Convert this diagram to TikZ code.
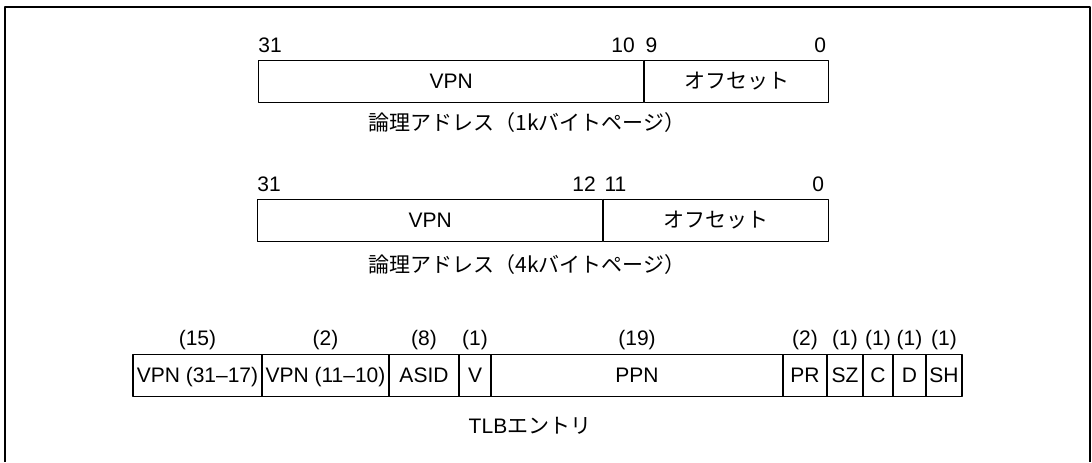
\documentclass[tikz,border=0pt]{standalone}
\usepackage{fontspec}
\setmainfont{Liberation Sans}
\newfontfamily\jp{Noto Sans CJK JP}
\usetikzlibrary{positioning}
\tikzset{
  field/.style={draw, line width=0.6pt, inner sep=0pt, text height=0.72em, text depth=0pt, minimum height=21pt},
  bit/.style={inner sep=0pt}
}
\begin{document}
\begin{tikzpicture}[line join=round, font=\fontsize{10.5}{12.6}\selectfont, x=0.5pt, y=-0.5pt]
  \useasboundingbox (0,0) rectangle (1092,462);
  \draw[line width=1.3pt] (5,462) -- (5,7) -- (1090,7) -- (1090,462);
  % logical address, 1k page
  \node[field, anchor=north west, minimum width=192.5pt] (vpnA) at (258,60) {VPN};
  \node[field, right=0pt of vpnA, minimum width=92pt] (offA) {\jp オフセット};
  \node[bit, anchor=base west] (hiA) at ([yshift=4pt]vpnA.north west) {31};
  \node[bit, anchor=base east] (vloA) at ([xshift=-4.5pt,yshift=4pt]vpnA.north east) {10};
  \node[bit, anchor=base west] (ohiA) at ([xshift=0.5pt,yshift=4pt]offA.north west) {9};
  \node[bit, anchor=base east] (loA) at ([xshift=-1.5pt,yshift=4pt]offA.north east) {0};
  \node[bit] (capA) at (527,123) {\jp 論理アドレス（1kバイトページ）};
  % logical address, 4k page
  \node[field, anchor=north west, minimum width=172.5pt] (vpnB) at (257,199) {VPN};
  \node[field, right=0pt of vpnB, minimum width=112.5pt] (offB) {\jp オフセット};
  \node[bit, anchor=base west] (hiB) at ([yshift=4pt]vpnB.north west) {31};
  \node[bit, anchor=base east] (vloB) at ([xshift=-3.5pt,yshift=4pt]vpnB.north east) {12};
  \node[bit, anchor=base west] (ohiB) at ([xshift=0.5pt,yshift=4pt]offB.north west) {11};
  \node[bit, anchor=base east] (loB) at ([xshift=-2.5pt,yshift=4pt]offB.north east) {0};
  \node[bit] (capB) at (527,265) {\jp 論理アドレス（4kバイトページ）};
  % TLB entry
  \foreach \l/\r/\txt/\n [count=\i] in {133/262/VPN (31–17)/15, 262/389/VPN (11–10)/2,
      389/459/ASID/8, 459/491/V/1, 491/783/PPN/19, 783/827/PR/2, 827/863/SZ/1,
      863/893/C/1, 893/926/D/1, 926/962/SH/1}{
    \node[field, minimum width={(\r-\l)*0.5pt}] (tlb\i) at ({(\l+\r)/2},375.5) {\txt};
    \node[bit, anchor=base] (len\i) at ([yshift=4.25pt]tlb\i.north) {(\n)};
  }
  \node[bit] (capT) at (530,426) {TLB{\jp エントリ}};
\end{tikzpicture}
\end{document}
